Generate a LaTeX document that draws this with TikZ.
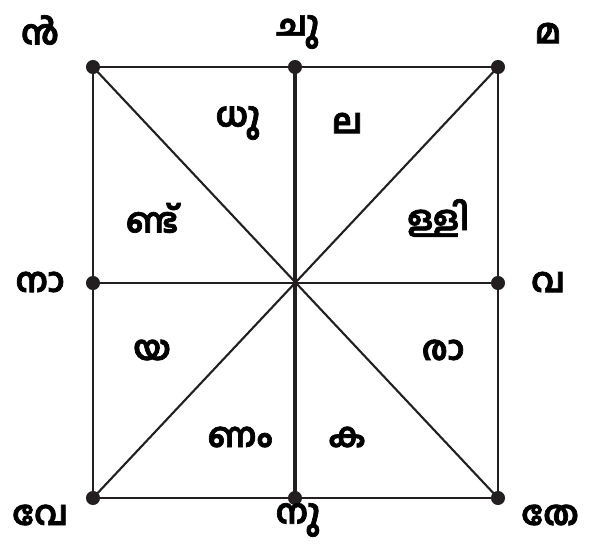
\documentclass[tikz,border=0pt]{standalone}
\usepackage{fontspec}
\newfontfamily\mlfont[Script=Malayalam, BoldFeatures={FakeBold=2}]{Hind Kochi}
\usetikzlibrary{positioning}
\definecolor{gridBlack}{HTML}{231F20}

\tikzset{
  dot/.style={circle, fill=gridBlack, inner sep=0pt, minimum size=12pt},
  syl/.style={font=\mlfont\bfseries\fontsize{29}{33}\selectfont, text=black, inner sep=0pt},
  edge/.style={gridBlack, line width=2.1pt},
}

\begin{document}
\begin{tikzpicture}[x=0.03cm, y=-0.03cm]
    \useasboundingbox (0,0) rectangle (595,545);
    % corners and midpoints of the square
    \foreach \n/\x/\y in {tl/93/67, tm/295/67, tr/498/67, ml/93/283, mr/498/283, bl/93/498, bm/295/498, br/498/498}{
      \node[dot] (\n) at (\x,\y) {};
    }
    \coordinate (c) at (295,283);
    % frame
    \draw[edge] (tl.center) -- (tr.center) -- (br.center) -- (bl.center) -- cycle;
    \draw[edge] (ml.center) -- (mr.center);
    \draw[gridBlack, line width=3pt] (tm.center) -- (bm.center);
    \draw[gridBlack, line width=1.8pt] (tl.center) -- (br.center);
    \draw[gridBlack, line width=1.8pt] (tr.center) -- (bl.center);
    % outer syllables
    \node[syl] (otl) at (40,30) {ൻ};
    \node[syl] (otm) at (298,32) {ചു};
    \node[syl] (otr) at (548,33) {മ};
    \node[syl] (oml) at (40,282) {നാ};
    \node[syl] (omr) at (548,282) {വ};
    \node[syl] (obl) at (40,515) {വേ};
    \node[syl] (obm) at (298,520) {നു};
    \node[syl] (obr) at (550,515) {തേ};
    % inner syllables
    \node[syl] (i1) at (238,123) {ധു};
    \node[syl] (i2) at (347,123) {ല};
    \node[syl] (i3) at (152,218) {ണ്ട്};
    \node[syl] (i4) at (438,218) {ള്ളി};
    \node[syl] (i5) at (152,350) {യ};
    \node[syl] (i6) at (443,350) {രാ};
    \node[syl] (i7) at (240,437) {ണം};
    \node[syl] (i8) at (347,437) {ക};
\end{tikzpicture}
\end{document}
